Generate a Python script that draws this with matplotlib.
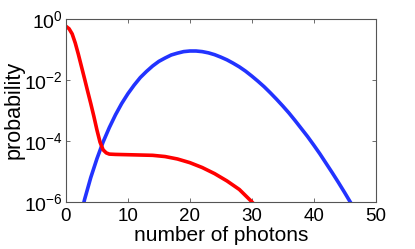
import matplotlib
matplotlib.use("Agg")
import matplotlib.pyplot as plt
import numpy as np
from matplotlib.ticker import FixedLocator, NullLocator

plt.rcParams['font.family'] = ['Liberation Sans', 'DejaVu Sans']
plt.rcParams['mathtext.fontset'] = 'custom'
plt.rcParams['mathtext.rm'] = 'Liberation Sans'
plt.rcParams['mathtext.it'] = 'Liberation Sans'
plt.rcParams['mathtext.default'] = 'regular'

# Red curve: photon number (x) and log10 probability
red_n = [0, 0.5, 1, 1.5, 2, 2.5, 3, 3.5, 4, 4.5, 5, 5.5, 6, 6.5, 7, 8, 10, 12, 14,
         16, 18, 20, 22, 24, 26, 28, 30, 31]
red_log = [-0.25, -0.33, -0.50, -0.80, -1.17, -1.57, -1.97, -2.38, -2.78, -3.20,
           -3.65, -4.05, -4.30, -4.40, -4.44, -4.45, -4.46, -4.47, -4.48, -4.52,
           -4.60, -4.72, -4.88, -5.08, -5.32, -5.60, -6.00, -6.22]

# Blue curve: photon number and log10 probability
blue_n = list(range(2, 48))
blue_log = [-6.78, -5.93, -5.21, -4.59, -4.04, -3.57, -3.15, -2.78, -2.46, -2.18,
            -1.93, -1.73, -1.55, -1.40, -1.29, -1.19, -1.13, -1.08, -1.06, -1.06,
            -1.08, -1.12, -1.18, -1.26, -1.35, -1.46, -1.58, -1.72, -1.88, -2.05,
            -2.23, -2.43, -2.64, -2.86, -3.09, -3.34, -3.60, -3.86, -4.14, -4.43,
            -4.74, -5.05, -5.37, -5.70, -6.04, -6.39]

x_ticks = [0, 10, 20, 30, 40, 50]
y_ticks = [1e-6, 1e-4, 1e-2, 1e0]
y_tick_labels = [r'$10^{-6}$', r'$10^{-4}$', r'$10^{-2}$', r'$10^{0}$']

fig = plt.figure(figsize=(4.15, 2.49), dpi=100)
ax = fig.add_axes([0.159, 0.19, 0.746, 0.735])

ax.plot(blue_n, 10 ** np.array(blue_log), color='#2233ff', lw=2.6, solid_capstyle='butt')
ax.plot(red_n, 10 ** np.array(red_log), color='#ff0000', lw=2.6, solid_capstyle='butt')

ax.set_yscale('log')
ax.set_xlim(0, 50)
ax.set_ylim(1e-6, 1e0)
ax.xaxis.set_major_locator(FixedLocator(x_ticks))
ax.set_xticklabels([str(t) for t in x_ticks])
ax.yaxis.set_major_locator(FixedLocator(y_ticks))
ax.yaxis.set_minor_locator(NullLocator())
ax.set_yticklabels(y_tick_labels)

ax.tick_params(which='both', direction='in', top=True, right=True, length=3,
               width=0.6, color='#555555', labelsize=14, pad=2)
ax.tick_params(axis='x', labelsize=13.5, pad=4.5)
for s in ax.spines.values():
    s.set_color('#555555')
    s.set_linewidth(0.8)

ax.set_xlabel('number of photons', fontsize=15, labelpad=0.5)
ax.set_ylabel('probability', fontsize=15.5, labelpad=0)

fig.savefig('out.png', dpi=100)
